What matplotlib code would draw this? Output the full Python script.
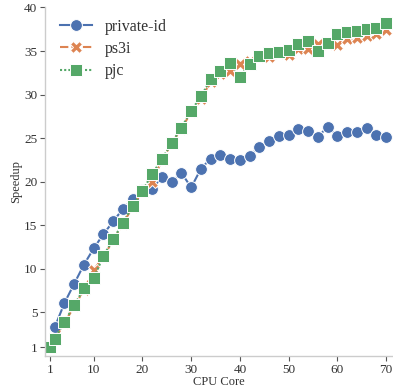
import matplotlib
matplotlib.use("Agg")
import matplotlib.pyplot as plt

BLUE, ORANGE, GREEN = "#4C72B0", "#DD8452", "#55A868"
plt.rcParams.update({
    "font.family": ["Liberation Serif", "DejaVu Serif"],
    "text.color": "#333333", "axes.labelcolor": "#333333",
    "xtick.color": "#555555", "ytick.color": "#555555",
    "xtick.labelcolor": "#333333", "ytick.labelcolor": "#333333",
})

cores = [1] + list(range(2, 71, 2))
private_id = [1.0, 3.3, 6.1, 8.3, 10.5, 12.35, 14.0, 15.45, 16.9, 18.0,
              19.0, 19.2, 20.55, 20.0, 21.0, 19.35, 21.5, 22.65, 23.05, 22.65,
              22.48, 23.0, 24.0, 24.66, 25.3, 25.4, 26.1, 25.85, 25.16, 26.3,
              25.3, 25.66, 25.66, 26.16, 25.4, 25.1]
ps3i = [1.0, 1.9, 3.8, 5.7, 7.6, 9.9, 11.4, 13.3, 15.2, 17.1,
        19.0, 20.0, 22.5, 24.4, 26.1, 28.0, 29.5, 31.5, 32.4, 32.7,
        33.5, 33.9, 34.3, 34.3, 34.8, 34.5, 35.2, 35.2, 35.8, 35.8,
        35.7, 36.4, 36.5, 36.75, 36.95, 37.45]
pjc = [1.0, 2.0, 3.93, 5.85, 7.75, 8.94, 11.5, 13.4, 15.3, 17.2,
       18.97, 20.9, 22.6, 24.47, 26.2, 28.15, 29.8, 31.75, 32.75, 33.66,
       32.05, 33.5, 34.43, 34.8, 34.9, 35.1, 35.8, 36.2, 34.95, 35.9,
       36.96, 37.15, 37.3, 37.5, 37.7, 38.25]
yticks = [1, 5, 10, 15, 20, 25, 30, 35, 40]
xticks = [1, 10, 20, 30, 40, 50, 60, 70]

fig = plt.figure(figsize=(3.93, 3.89), dpi=100)
ax = fig.add_axes([0.1145, 0.0848, 0.8855, 0.896])

ax.plot(cores, private_id, color=BLUE, lw=1.5, ls="-", marker="o", ms=8.5,
        mec="white", mew=0.7, label="private-id")
ax.plot(cores, ps3i, color=ORANGE, lw=1.5, ls=(0, (4, 1.5)), marker="X", ms=8.5,
        mec="white", mew=0.7, label="ps3i")
ax.plot(cores, pjc, color=GREEN, lw=1.5, ls=(0, (1, 1)), marker="s", ms=8,
        mec="white", mew=0.7, label="pjc")

ax.set_xlim(0, 71.4)
ax.set_ylim(0, 40)
ax.set_xticks(xticks)
ax.set_yticks(yticks)
ax.tick_params(labelsize=9.5, length=3.5, width=0.8, pad=2)
ax.set_xlabel("CPU Core", fontsize=9, labelpad=0)
ax.set_ylabel("Speedup", fontsize=9, labelpad=1)
for s in ("top", "right"):
    ax.spines[s].set_visible(False)
for s in ("left", "bottom"):
    ax.spines[s].set_color("#cccccc")
    ax.spines[s].set_linewidth(1.0)

ax.legend(loc="upper left", frameon=False, fontsize=11.5, handlelength=2.0,
          handletextpad=0.8, labelspacing=0.4, borderaxespad=0.3,
          bbox_to_anchor=(0.01, 1.0))

fig.savefig("out.png", dpi=100)
